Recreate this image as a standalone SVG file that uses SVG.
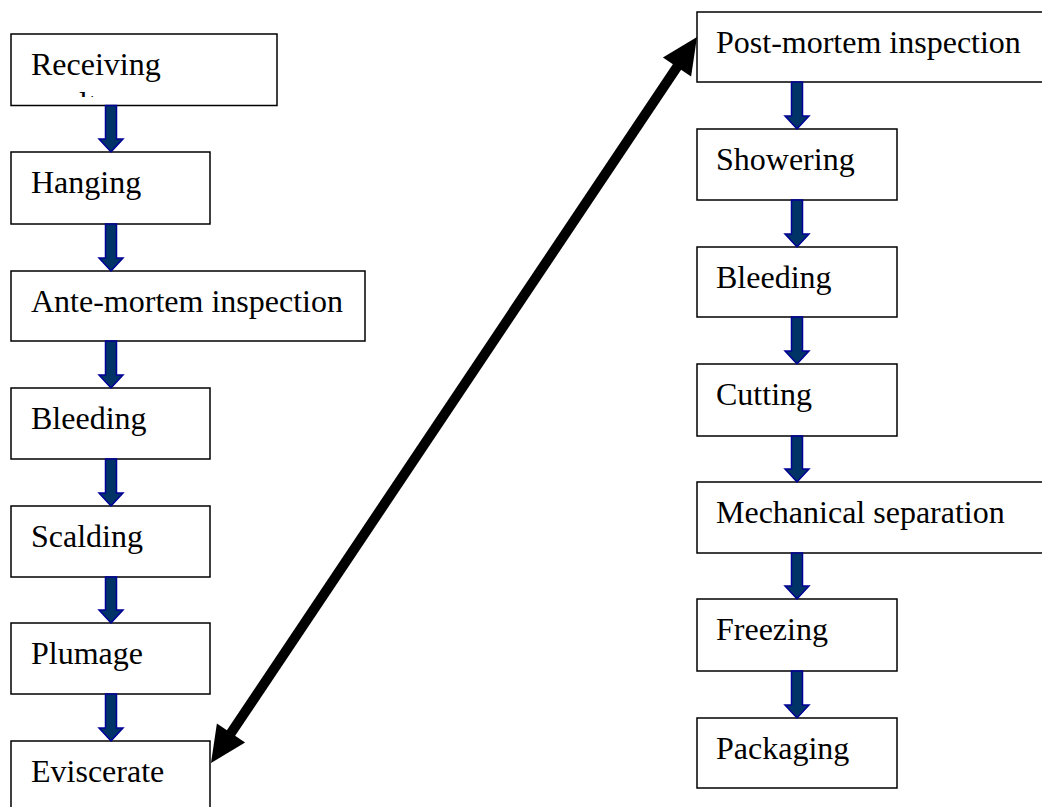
<svg xmlns="http://www.w3.org/2000/svg" width="1042" height="807" viewBox="0 0 1042 807">
<style>
.box{fill:#fff;stroke:#000;stroke-width:1.5}
.t{font-family:"Liberation Serif","Times New Roman",serif;font-size:32px;fill:#000}
.flow{fill:#003366;stroke:#000099;stroke-width:1.5}
</style>
<defs>
<clipPath id="recClip"><rect x="11" y="34" width="266" height="63"/></clipPath>
</defs>
<rect width="1042" height="807" fill="#fff"/>
<g id="n-receiving"><rect class="box" x="11" y="34" width="266" height="71.5"/><text class="t" x="31" y="75">Receiving</text><text class="t" x="31" y="113.5" clip-path="url(#recClip)">poultry</text></g>
<g id="n-hanging"><rect class="box" x="11" y="152" width="199" height="72"/><text class="t" x="31" y="193">Hanging</text></g>
<g id="n-antemortem"><rect class="box" x="11" y="271" width="354" height="70"/><text class="t" x="31" y="312">Ante-mortem inspection</text></g>
<g id="n-bleeding1"><rect class="box" x="11" y="388" width="199" height="71"/><text class="t" x="31" y="429">Bleeding</text></g>
<g id="n-scalding"><rect class="box" x="11" y="506" width="199" height="71"/><text class="t" x="31" y="547">Scalding</text></g>
<g id="n-plumage"><rect class="box" x="11" y="623" width="199" height="71"/><text class="t" x="31" y="664">Plumage</text></g>
<g id="n-eviscerate"><rect class="box" x="11" y="741" width="199" height="80"/><text class="t" x="31" y="782">Eviscerate</text></g>
<g id="n-postmortem"><rect class="box" x="697" y="12" width="354" height="70"/><text class="t" x="716" y="53">Post-mortem inspection</text></g>
<g id="n-showering"><rect class="box" x="697" y="129" width="200" height="71"/><text class="t" x="716" y="170">Showering</text></g>
<g id="n-bleeding2"><rect class="box" x="697" y="247" width="200" height="70"/><text class="t" x="716" y="288">Bleeding</text></g>
<g id="n-cutting"><rect class="box" x="697" y="364" width="200" height="72"/><text class="t" x="716" y="405">Cutting</text></g>
<g id="n-mechanical"><rect class="box" x="697" y="482" width="354" height="71"/><text class="t" x="716" y="523">Mechanical separation</text></g>
<g id="n-freezing"><rect class="box" x="697" y="599" width="200" height="72"/><text class="t" x="716" y="640">Freezing</text></g>
<g id="n-packaging"><rect class="box" x="697" y="718" width="200" height="70"/><text class="t" x="716" y="759">Packaging</text></g>
<g id="connectors">
<path class="flow" d="M105.5,105.5 H116.5 V139 H123 L111,152 L99,139 H105.5 Z"/>
<path class="flow" d="M105.5,224 H116.5 V258 H123 L111,271 L99,258 H105.5 Z"/>
<path class="flow" d="M105.5,341 H116.5 V375 H123 L111,388 L99,375 H105.5 Z"/>
<path class="flow" d="M105.5,459 H116.5 V493 H123 L111,506 L99,493 H105.5 Z"/>
<path class="flow" d="M105.5,577 H116.5 V610 H123 L111,623 L99,610 H105.5 Z"/>
<path class="flow" d="M105.5,694 H116.5 V728 H123 L111,741 L99,728 H105.5 Z"/>
<path class="flow" d="M791.5,82 H802.5 V116 H809 L797,129 L785,116 H791.5 Z"/>
<path class="flow" d="M791.5,200 H802.5 V234 H809 L797,247 L785,234 H791.5 Z"/>
<path class="flow" d="M791.5,317 H802.5 V351 H809 L797,364 L785,351 H791.5 Z"/>
<path class="flow" d="M791.5,436 H802.5 V469 H809 L797,482 L785,469 H791.5 Z"/>
<path class="flow" d="M791.5,553 H802.5 V586 H809 L797,599 L785,586 H791.5 Z"/>
<path class="flow" d="M791.5,671 H802.5 V705 H809 L797,718 L785,705 H791.5 Z"/>
<line x1="229" y1="736" x2="679" y2="64" stroke="#000" stroke-width="10"/>
<polygon points="697,37 691.1,76.4 662.9,57.4" fill="#000"/>
<polygon points="211,763 245.1,742.6 216.9,723.6" fill="#000"/>
</g>
</svg>
